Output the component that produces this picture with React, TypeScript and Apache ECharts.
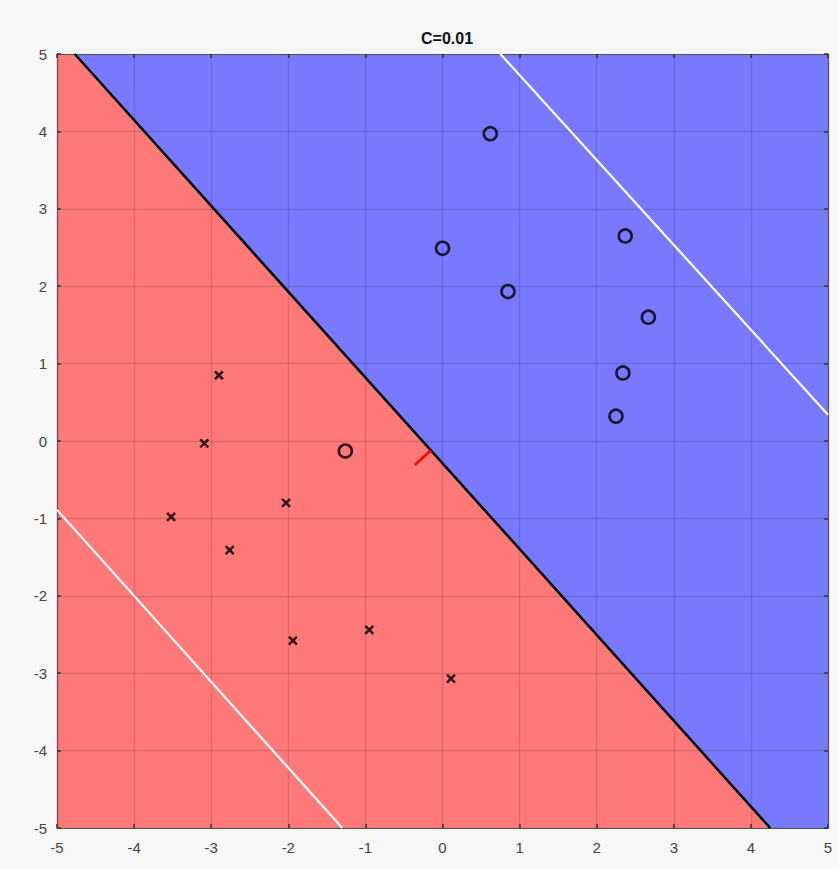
import React, { useEffect, useRef } from "react";
import * as echarts from "echarts";

// Axis range and ticks
const axisMin = -5;
const axisMax = 5;
const tickInterval = 1;

// Decision boundary (black) endpoints
const boundaryX = [-4.77, 4.25];
const boundaryY = [5, -5];

// Margin lines (white)
const upperMarginX = [0.75, 5];
const upperMarginY = [5, 0.34];
const lowerMarginX = [-5, -1.3];
const lowerMarginY = [-0.89, -5];

// Short red segment
const redSegX = [-0.36, -0.15];
const redSegY = [-0.31, -0.12];

// Class "o" points
const circleX = [0.62, 0.0, 0.85, 2.37, 2.67, 2.34, 2.25, -1.26];
const circleY = [3.97, 2.49, 1.93, 2.65, 1.6, 0.88, 0.32, -0.13];

// Class "x" points
const crossX = [-2.9, -3.09, -3.52, -2.03, -2.76, -1.94, -0.95, 0.11];
const crossY = [0.85, -0.03, -0.98, -0.8, -1.41, -2.58, -2.44, -3.07];

const title = "C=0.01";

const zip = (xs: number[], ys: number[]) => xs.map((x, i) => [x, ys[i]]);

export default function App() {
  const ref = useRef<HTMLDivElement>(null);
  useEffect(() => {
    if (!ref.current) return;
    const chart = echarts.init(ref.current, null, { renderer: "svg" });

    const bluePoly = [
      [boundaryX[0], boundaryY[0]],
      [axisMax, axisMax],
      [axisMax, axisMin],
      [boundaryX[1], boundaryY[1]],
    ];
    const redPoly = [
      [axisMin, axisMax],
      [boundaryX[0], boundaryY[0]],
      [boundaryX[1], boundaryY[1]],
      [axisMin, axisMin],
    ];

    const polySeries = (pts: number[][], color: string) => ({
      type: "custom",
      z: 1,
      silent: true,
      data: [0],
      renderItem: (_params: any, api: any) => ({
        type: "polygon",
        shape: { points: pts.map((p) => api.coord(p)) },
        style: { fill: color },
      }),
    });

    const lineSeries = (xs: number[], ys: number[], color: string, width: number, z: number) => ({
      type: "line",
      z,
      data: zip(xs, ys),
      symbol: "none",
      silent: true,
      lineStyle: { color, width },
    });

    const baseAxis = {
      min: axisMin,
      max: axisMax,
      interval: tickInterval,
      z: 3,
      axisLine: { show: true, onZero: false, lineStyle: { color: "#555", width: 1.2 } },
      axisTick: { show: true, inside: true, length: 4, lineStyle: { color: "#333", width: 1.5 } },
      axisLabel: { color: "#444", fontSize: 15, fontFamily: "Liberation Sans, Arial, sans-serif", margin: 10 },
      splitLine: { show: true, lineStyle: { color: "rgba(0,0,0,0.13)", width: 1.3 } },
    };

    chart.setOption({
      animation: false,
      backgroundColor: "#f7f7f7",
      title: {
        text: title,
        left: 442,
        top: 25,
        textAlign: "center",
        textStyle: { fontSize: 16, fontWeight: "bold", color: "#111", fontFamily: "Liberation Sans, Arial, sans-serif" },
      },
      grid: { left: 57, top: 54, width: 771, height: 774, containLabel: false },
      xAxis: [
        { ...baseAxis, type: "value", position: "bottom", axisLabel: { ...baseAxis.axisLabel, margin: 12 } },
        { ...baseAxis, type: "value", position: "top", axisLabel: { show: false }, splitLine: { show: false } },
      ],
      yAxis: [
        { ...baseAxis, type: "value", position: "left" },
        { ...baseAxis, type: "value", position: "right", axisLabel: { show: false }, splitLine: { show: false } },
      ],
      series: [
        polySeries(redPoly, "#ff7979"),
        polySeries(bluePoly, "#7979ff"),
        lineSeries(boundaryX, boundaryY, "#000", 2.5, 4),
        lineSeries(upperMarginX, upperMarginY, "#ffffff", 2.2, 4),
        lineSeries(lowerMarginX, lowerMarginY, "#ffffff", 2.2, 4),
        lineSeries(redSegX, redSegY, "#ff0000", 2.5, 4),
        {
          type: "scatter",
          z: 5,
          data: zip(circleX, circleY),
          symbol: "circle",
          symbolSize: 13,
          itemStyle: { color: "transparent", borderColor: "#000", borderWidth: 2.6 },
        },
        {
          type: "scatter",
          z: 5,
          data: zip(crossX, crossY),
          symbol: "path://M0,0L10,10M10,0L0,10",
          symbolSize: 8,
          itemStyle: { color: "transparent", borderColor: "#000", borderWidth: 2.6 },
        },
      ],
    });
    return () => chart.dispose();
  }, []);
  return <div ref={ref} style={{ position: "fixed", left: 0, top: 0, width: 839, height: 869 }} />;
}
